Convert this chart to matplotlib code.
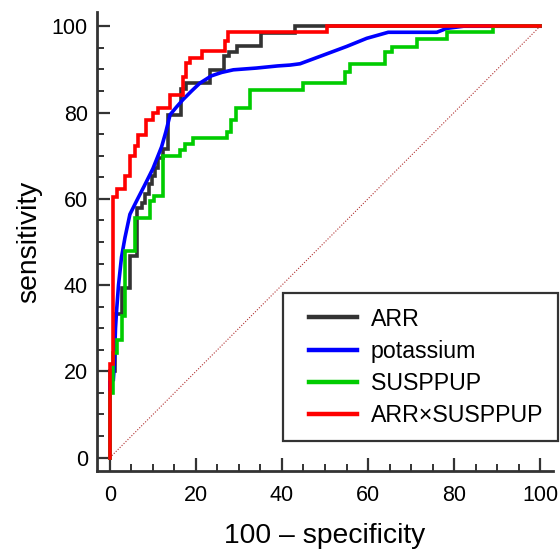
import matplotlib
matplotlib.use("Agg")
import matplotlib.pyplot as plt
from matplotlib.lines import Line2D
from matplotlib.legend_handler import HandlerLine2D
from matplotlib.ticker import MultipleLocator

plt.rcParams['font.family'] = ['Liberation Sans', 'DejaVu Sans']

# ROC step curves (100 - specificity, sensitivity)
arr_x = [0, 0, 1.2, 1.2, 2.7, 2.7, 4.65, 4.65, 6.4, 6.4, 7.4, 7.4, 8.2, 8.2, 9.0, 9.0,
         9.7, 9.7, 10.5, 10.5, 11.2, 11.2, 12.4, 12.4, 13.4, 13.4, 16.5, 16.5, 17.8, 17.8,
         23.3, 23.3, 26.6, 26.6, 27.6, 27.6, 29.5, 29.5, 35.1, 35.1, 43.0, 43.0, 100]
arr_y = [0, 20, 20, 33.3, 33.3, 39.4, 39.4, 46.8, 46.8, 57.9, 57.9, 59.1, 59.1, 61.0, 61.0, 63.4,
         63.4, 65.2, 65.2, 67.2, 67.2, 69.5, 69.5, 71.5, 71.5, 79.5, 79.5, 85.5, 85.5, 86.8,
         86.8, 89.9, 89.9, 93.0, 93.0, 94.1, 94.1, 95.5, 95.5, 98.5, 98.5, 100, 100]

pot_x = [0, 0, 0.8, 1.0, 1.3, 1.55, 2.0, 2.7, 3.5, 4.65, 6.2, 8.0, 10.0, 12.0, 13.0, 14.0,
         15.5, 17.0, 19.0, 20.9, 23.6, 26.0, 28.7, 34.0, 39.0, 41.9, 44.2, 48.8, 55.0,
         59.7, 64.7, 76.0, 78.3, 82.2, 100]
pot_y = [0, 17.5, 18.0, 21.0, 30.0, 34.0, 40.0, 46.5, 51.0, 56.4, 59.5, 63.0, 67.0, 72.0,
         75.5, 79.5, 81.3, 83.0, 85.0, 86.8, 88.5, 89.3, 89.9, 90.3, 90.8, 91.0, 91.3, 93.0,
         95.3, 97.2, 98.6, 98.6, 99.5, 100, 100]

sus_x = [0, 0, 0.8, 0.8, 1.55, 1.55, 2.7, 2.7, 3.5, 3.5, 5.8, 5.8, 9.3, 9.3, 10.3, 10.3,
         12.4, 12.4, 16.3, 16.3, 17.4, 17.4, 19.4, 19.4, 27.2, 27.2, 28.2, 28.2, 29.4, 29.4,
         32.5, 32.5, 45.0, 45.0, 54.7, 54.7, 55.8, 55.8, 64.0, 64.0, 65.5, 65.5, 71.3, 71.3,
         78.3, 78.3, 89.1, 89.1, 100]
sus_y = [0, 15, 15, 24.2, 24.2, 27.2, 27.2, 32.9, 32.9, 47.9, 47.9, 55.5, 55.5, 59.5, 59.5, 60.6,
         60.6, 69.9, 69.9, 71.2, 71.2, 72.6, 72.6, 74.1, 74.1, 75.4, 75.4, 78.3, 78.3, 81.0,
         81.0, 85.3, 85.3, 86.8, 86.8, 89.5, 89.5, 91.2, 91.2, 94.1, 94.1, 95.3, 95.3, 97.0,
         97.0, 98.6, 98.6, 100, 100]

comb_x = [0, 0, 0.8, 0.8, 1.6, 1.6, 3.5, 3.5, 4.6, 4.6, 5.8, 5.8, 6.6, 6.6, 8.5, 8.5,
          10.1, 10.1, 11.2, 11.2, 14.0, 14.0, 17.0, 17.0, 17.8, 17.8, 18.6, 18.6, 21.3, 21.3,
          26.7, 26.7, 27.5, 27.5, 50.5, 50.5, 100]
comb_y = [0, 21.8, 21.8, 60.5, 60.5, 62.2, 62.2, 65.2, 65.2, 69.9, 69.9, 72.2, 72.2, 74.9, 74.9, 78.3,
          78.3, 79.9, 79.9, 81.1, 81.1, 84.1, 84.1, 88.3, 88.3, 91.4, 91.4, 92.6, 92.6, 94.3,
          94.3, 96.5, 96.5, 98.6, 98.6, 100, 100]

curves = [
    ("ARR", arr_x, arr_y, "#333333"),
    ("potassium", pot_x, pot_y, "#0000ff"),
    ("SUSPPUP", sus_x, sus_y, "#00cc00"),
    ("ARR\u00d7SUSPPUP", comb_x, comb_y, "#ff0000"),
]

fig = plt.figure(figsize=(5.6, 5.52), dpi=100)
ax = fig.add_axes([97 / 560, 1 - 471 / 552, (553 - 97) / 560, (471 - 12) / 552])

# reference diagonal
ax.plot([0, 100], [0, 100], color="#b03030", linestyle=(0, (1, 1.5)), linewidth=0.8)

for name, xs, ys, col in curves:
    ax.plot(xs, ys, color=col, linewidth=2.6, label=name, solid_joinstyle="miter")

ax.set_xlim(-3.0, 103.0)
ax.set_ylim(-3.1, 103.3)

for side in ["top", "right"]:
    ax.spines[side].set_visible(False)
for side in ["left", "bottom"]:
    ax.spines[side].set_color("#333333")
    ax.spines[side].set_linewidth(2.0)

ax.xaxis.set_major_locator(MultipleLocator(20))
ax.xaxis.set_minor_locator(MultipleLocator(5))
ax.yaxis.set_major_locator(MultipleLocator(20))
ax.yaxis.set_minor_locator(MultipleLocator(5))
ax.tick_params(which="major", direction="in", length=9.5, width=1.6, color="#333333",
               labelsize=15.5)
ax.tick_params(axis="x", which="major", pad=10)
ax.tick_params(axis="y", which="major", pad=6.5)
ax.tick_params(which="minor", direction="in", length=5, width=1.4, color="#333333")

ax.set_xlabel("100 \u2013 specificity", fontsize=20.3)
ax.set_ylabel("sensitivity", fontsize=20.3)
ax.xaxis.set_label_coords(0.5, -0.113)
ax.yaxis.set_label_coords(-0.12, 0.5)

leg = ax.legend(loc="upper left", bbox_to_anchor=(283 / 560, 1 - 293 / 552),
                bbox_transform=fig.transFigure, fontsize=16.7, frameon=True,
                fancybox=False, edgecolor="black", borderpad=0.63, labelspacing=0.39,
                handlelength=2.56, handletextpad=0.6, borderaxespad=0,
                handler_map={Line2D: HandlerLine2D(xpad=0.49)})
leg.get_frame().set_linewidth(1.6)
for h in leg.get_lines():
    h.set_linewidth(3.2)

fig.savefig("out.png", dpi=100)
